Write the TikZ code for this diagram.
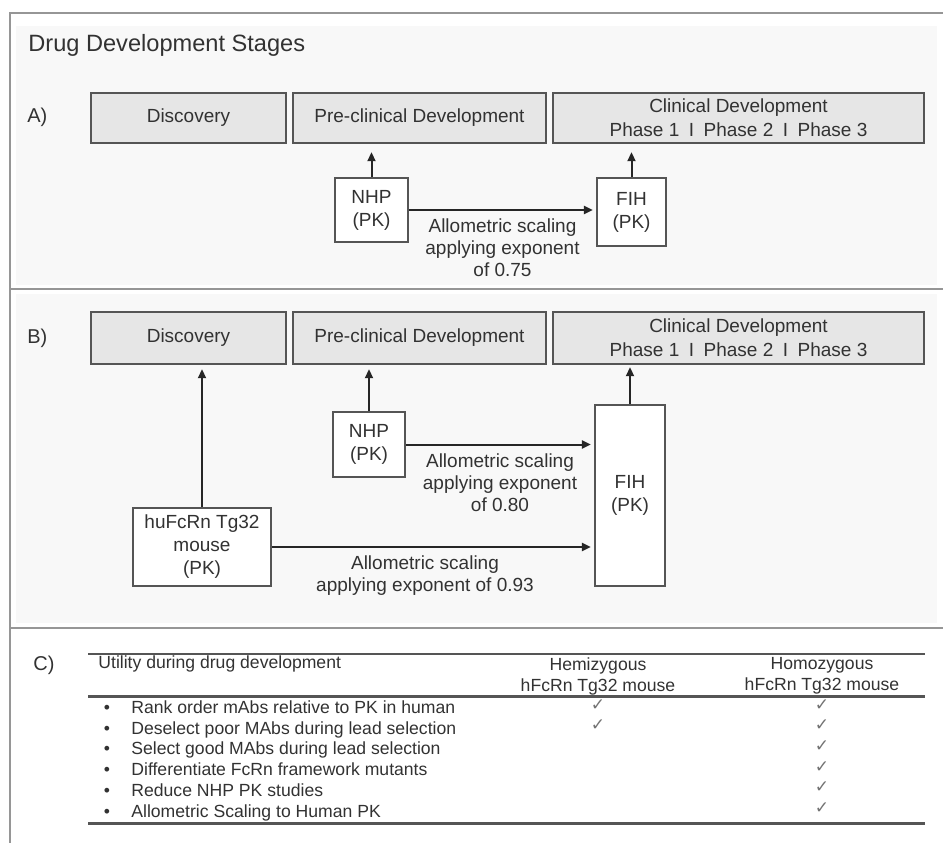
\documentclass[tikz,border=0pt]{standalone}
\usepackage{xcolor}
\usepackage{fontspec}
\setmainfont{Liberation Sans}
\newfontfamily\symbolfont{DejaVu Sans}
\usepackage{tikz}
\usetikzlibrary{arrows.meta, positioning, calc}
\definecolor{framegray}{RGB}{150, 150, 150}
\definecolor{boxgray}{RGB}{85, 85, 85}
\definecolor{stagefill}{RGB}{230, 230, 230}
\definecolor{textgray}{RGB}{50, 50, 50}
\definecolor{panelgray}{RGB}{248, 248, 248}
\tikzstyle{stage} = [
    rectangle, 
    draw=boxgray, 
    line width=1.2pt, 
    fill=stagefill, 
    inner sep=0pt, 
    align=center, 
    text=textgray, 
    font=\fontsize{9.5}{12}\selectfont
]
\tikzstyle{study} = [
    rectangle, 
    draw=boxgray, 
    line width=1.1pt, 
    fill=white, 
    inner sep=0pt, 
    align=center, 
    text=textgray, 
    font=\fontsize{9.5}{11.5}\selectfont
]
\tikzstyle{arrow} = [
    line width=1pt, 
    -{Triangle[length=4.5pt, width=4pt]}, 
    color=black!85
]
\tikzstyle{scaling} = [
    inner sep=0pt, 
    align=center, 
    text=textgray, 
    font=\fontsize{9.5}{11}\selectfont
]
\tikzstyle{tag} = [
    anchor=west, 
    inner sep=0pt, 
    text=textgray, 
    font=\fontsize{10}{12}\selectfont
]
\tikzstyle{tabtext} = [
    inner sep=0pt, 
    text height=6.5pt, 
    text depth=2pt, 
    text=textgray, 
    font=\fontsize{8.8}{10.5}\selectfont
]
\tikzstyle{tickmark} = [
    inner sep=0pt, 
    text height=6pt, 
    text depth=0pt, 
    text=black!55, 
    font=\symbolfont\fontsize{8.5}{9}\selectfont
]
\tikzstyle{rule} = [
    line width=1.2pt, 
    color=boxgray
]

\begin{document}
\begin{tikzpicture}[x=0.5pt, y=-0.5pt]
        \useasboundingbox (0,0) rectangle (943,843);

        % Panels and frame
        \fill[panelgray] (16,26) rectangle (937,285);
        \fill[panelgray] (16,294) rectangle (937,623);
        \draw[framegray, line width=0.75pt] (943,13) -- (10,13) -- (10,843);
        \draw[framegray, line width=0.75pt] (10,289) -- (943,289);
        \draw[framegray, line width=0.75pt] (10,628) -- (943,628);

        \node[tag, font=\fontsize{11.8}{13}\selectfont] (title) at (28,45) {Drug Development Stages};

        % A) stages
        \node[tag] (tagA) at (27,117) {A)};
        \node[stage, minimum width=97.5pt, minimum height=25pt] (discA) at (188.5,118) {Discovery};
        \node[stage, minimum width=126.5pt, minimum height=25pt] (preA) at (419.5,118) {Pre-clinical Development};
        \node[stage, minimum width=185.5pt, minimum height=25pt] (clinA) at (738.5,118) {Clinical Development\\Phase 1\enspace I\enspace Phase 2\enspace I\enspace Phase 3};

        % A) studies
        \node[study, minimum width=36.5pt, minimum height=32pt] (nhpA) at (371.5,210) {NHP\\(PK)};
        \node[study, minimum width=34.5pt, minimum height=34pt] (fihA) at (631.5,212) {FIH\\(PK)};

        \draw[arrow, shorten >=4pt] (nhpA) -- (nhpA |- preA.south);
        \draw[arrow, shorten >=4pt] (fihA) -- (fihA |- clinA.south);
        \draw[arrow, shorten >=1.5pt] (nhpA.east) -- (nhpA.east -| fihA.west)
            node[scaling, midway, below=4pt] {Allometric scaling\\applying exponent\\of 0.75};

        % B) stages
        \node[tag] (tagB) at (27,338) {B)};
        \node[stage, minimum width=97.5pt, minimum height=26pt] (discB) at (188.5,338) {Discovery};
        \node[stage, minimum width=126.5pt, minimum height=26pt] (preB) at (419.5,338) {Pre-clinical Development};
        \node[stage, minimum width=185.5pt, minimum height=26pt] (clinB) at (738.5,338) {Clinical Development\\Phase 1\enspace I\enspace Phase 2\enspace I\enspace Phase 3};

        % B) studies
        \node[study, minimum width=36pt, minimum height=32.5pt] (nhpB) at (369,444.5) {NHP\\(PK)};
        \node[study, minimum width=35pt, minimum height=90.5pt] (fihB) at (630,495.5) {FIH\\(PK)};
        \node[study, minimum width=69pt, minimum height=39pt] (mouseB) at (202,547) {huFcRn Tg32\\mouse\\(PK)};

        \draw[arrow, shorten >=2pt] (mouseB) -- (mouseB |- discB.south);
        \draw[arrow, shorten >=2pt] (nhpB) -- (nhpB |- preB.south);
        \draw[arrow, shorten >=1pt] (fihB) -- (fihB |- clinB.south);
        \draw[arrow, shorten >=1.5pt] (nhpB.east) -- (nhpB.east -| fihB.west)
            node[scaling, midway, below=4pt] {Allometric scaling\\applying exponent\\of 0.80};
        \draw[arrow, shorten >=1.5pt] (mouseB.east) -- (mouseB.east -| fihB.west)
            node[scaling, midway, below=4pt, xshift=-4pt] {Allometric scaling\\applying exponent of 0.93};

        % C) table
        \node[tag] (tagC) at (33,665) {C)};
        \draw[rule] (88,654) -- (925,654);
        \draw[rule, line width=1.5pt] (88,696) -- (925,696);
        \draw[rule, line width=1.5pt] (88,823) -- (925,823);
        \node[tabtext, anchor=west] (utility) at (98,664) {Utility during drug development};
        \node[inner sep=0pt, align=center, text=textgray, font=\fontsize{8.8}{10.5}\selectfont] (hemi) at (598,676) {Hemizygous\\hFcRn Tg32 mouse};
        \node[inner sep=0pt, align=center, text=textgray, font=\fontsize{8.8}{10.5}\selectfont] (homo) at (822,676) {Homozygous\\hFcRn Tg32 mouse};

        \foreach \txt [count=\i] in {Rank order mAbs relative to PK in human,
                Deselect poor MAbs during lead selection,
                Select good MAbs during lead selection,
                Differentiate FcRn framework mutants,
                Reduce NHP PK studies,
                Allometric Scaling to Human PK} {
            \node[tabtext, anchor=west] (row\i) at (131,{709+20.7*(\i-1)}) {\txt};
            \node[tabtext] (dot\i) at (107,{709+20.7*(\i-1)}) {\textbullet};
            \node[tickmark] (homo\i) at (822,{704+20.7*(\i-1)}) {✓};
        }
        \foreach \i in {1,2} {
            \node[tickmark] (hemi\i) at (598,{704+20.7*(\i-1)}) {✓};
        }
    \end{tikzpicture}
\end{document}
